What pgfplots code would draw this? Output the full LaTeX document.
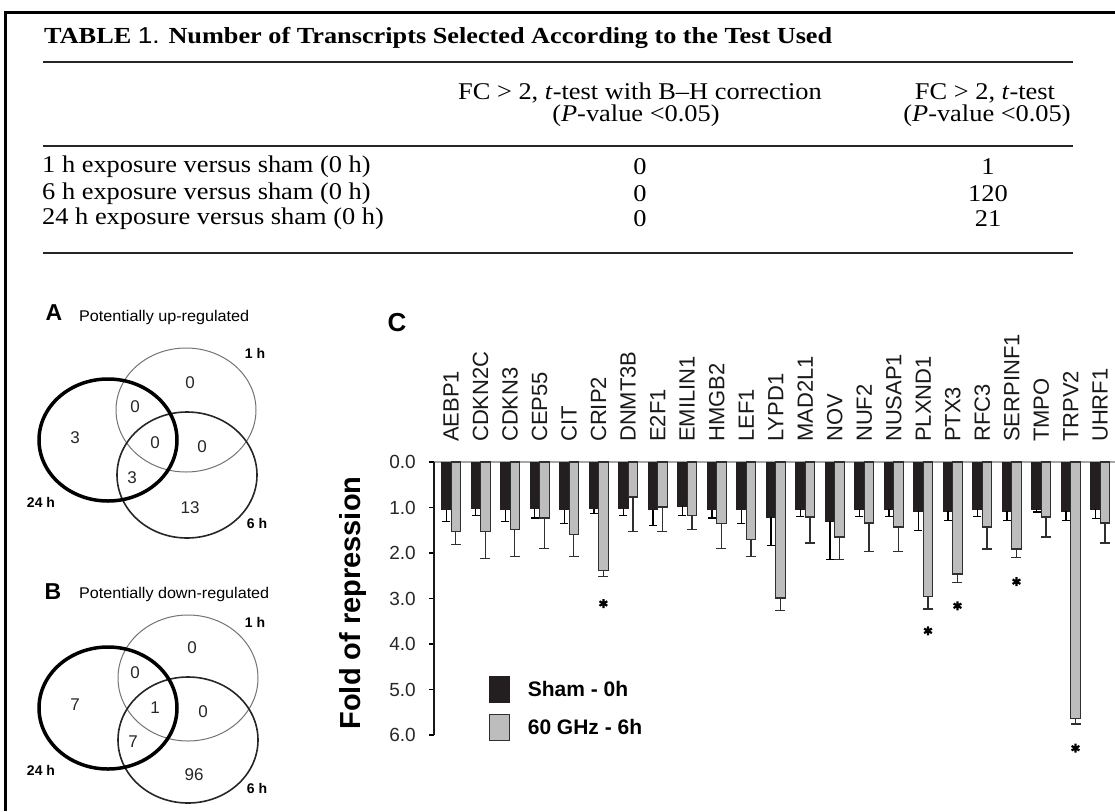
\documentclass[border=0pt]{standalone}
\usepackage{pgfplots}
\pgfplotsset{compat=1.18}
\usepackage{pgfplotstable}
\usepackage{graphicx}
\usepackage{fontspec}
\setmainfont{Liberation Serif}
\setsansfont{Liberation Sans}
\newcommand\fs[2]{\fontsize{#1pt}{#2pt}\selectfont}
\newcommand\tx[1]{\scalebox{1.1}[1]{#1}}
\definecolor{barblack}{HTML}{231F20}
\definecolor{bargray}{HTML}{BDBDBD}
\definecolor{edge}{HTML}{303030}

\pgfplotstableread{
x  b     be    g     ge
0  1.05  0.26  1.52  0.30
1  1.03  0.15  1.52  0.60
2  1.05  0.26  1.49  0.59
3  1.03  0.20  1.23  0.67
4  1.05  0.31  1.60  0.48
5  1.03  0.11  2.39  0.13
6  1.03  0.15  0.77  0.75
7  1.05  0.35  0.99  0.53
8  0.97  0.21  1.18  0.31
9  1.05  0.18  1.36  0.54
10 1.05  0.31  1.71  0.37
11 1.21  0.62  2.99  0.28
12 1.04  0.15  1.21  0.57
13 1.30  0.85  1.65  0.50
14 1.04  0.15  1.34  0.62
15 1.04  0.15  1.43  0.53
16 1.08  0.43  2.96  0.27
17 1.08  0.21  2.46  0.18
18 1.04  0.15  1.43  0.48
19 1.08  0.21  1.91  0.19
20 1.04  0.06  1.21  0.44
21 1.08  0.21  5.63  0.13
22 1.04  0.20  1.34  0.44
}\genedata

\begin{document}
\begin{tikzpicture}
\path[use as bounding box] (0pt,0pt) rectangle (1115pt,-811pt);
% frame
\draw[line width=3pt] (5pt,-811pt) -- (5pt,-12pt) -- (1115pt,-12pt);

% ---------- table ----------
\node[anchor=west, inner sep=0pt] at (44pt,-38pt)
  {\resizebox{788pt}{\height}{\fs{23}{26}\textbf{TABLE} {\sffamily 1.} \textbf{Number of Transcripts Selected According to the Test Used}}};
\draw[line width=2pt, black!85] (43pt,-62pt) -- (1073pt,-62pt);
\draw[line width=2pt, black!85] (43pt,-146pt) -- (1073pt,-146pt);
\draw[line width=2pt, black!85] (43pt,-253pt) -- (1073pt,-253pt);
\begin{scope}[every node/.style={inner sep=0pt, font=\fs{24}{26}}]
\node at (640pt,-93pt) {\tx{FC > 2, \textit{t}-test with B--H correction}};
\node at (636pt,-116pt) {\tx{(\textit{P}-value <0.05)}};
\node at (985pt,-93pt) {\tx{FC > 2, \textit{t}-test}};
\node at (987pt,-116pt) {\tx{(\textit{P}-value <0.05)}};
\node[anchor=west] at (42pt,-167pt) {\tx{1 h exposure versus sham (0 h)}};
\node[anchor=west] at (42pt,-194pt) {\tx{6 h exposure versus sham (0 h)}};
\node[anchor=west] at (42pt,-219pt) {\tx{24 h exposure versus sham (0 h)}};
\node at (640pt,-167pt) {\tx{0}};
\node at (640pt,-194pt) {\tx{0}};
\node at (640pt,-219pt) {\tx{0}};
\node at (988pt,-167pt) {\tx{1}};
\node at (988pt,-194pt) {\tx{120}};
\node at (988pt,-219pt) {\tx{21}};
\end{scope}

% ---------- Venn A ----------
\node[inner sep=0pt, font=\sffamily\bfseries\fs{23}{23}] at (54pt,-313pt) {A};
\node[anchor=west, inner sep=0pt] at (79pt,-317pt) {\resizebox{170pt}{\height}{\sffamily\fs{15.5}{16}Potentially up-regulated}};
\draw[black!55, line width=1pt] (186pt,-410pt) ellipse [x radius=70pt, y radius=62pt];
\draw[black!85, line width=1.6pt] (187pt,-475pt) ellipse [x radius=70pt, y radius=63pt];
\draw[black, line width=3.5pt] (108pt,-440pt) ellipse [x radius=69pt, y radius=61pt];
\begin{scope}[every node/.style={inner sep=0pt, font=\sffamily\fs{17}{17}, text=black!85}]
\node at (190pt,-383pt) {0};
\node at (135pt,-407pt) {0};
\node at (75pt,-438pt) {3};
\node at (155pt,-443pt) {0};
\node at (202pt,-447pt) {0};
\node at (132pt,-478pt) {3};
\node at (190pt,-508pt) {13};
\end{scope}
\begin{scope}[every node/.style={inner sep=0pt, font=\sffamily\bfseries\fs{14}{14}}]
\node at (255pt,-353pt) {1 h};
\node at (41pt,-502pt) {24 h};
\node at (257pt,-523pt) {6 h};
\end{scope}

% ---------- Venn B ----------
\node[inner sep=0pt, font=\sffamily\bfseries\fs{23}{23}] at (53pt,-592pt) {B};
\node[anchor=west, inner sep=0pt] at (79pt,-594pt) {\resizebox{190pt}{\height}{\sffamily\fs{15.5}{16}Potentially down-regulated}};
\draw[black!55, line width=1pt] (188pt,-678pt) ellipse [x radius=70pt, y radius=63pt];
\draw[black!85, line width=1.6pt] (188pt,-740pt) ellipse [x radius=70pt, y radius=63pt];
\draw[black, line width=3.5pt] (108pt,-708pt) ellipse [x radius=69pt, y radius=61pt];
\begin{scope}[every node/.style={inner sep=0pt, font=\sffamily\fs{17}{17}, text=black!85}]
\node at (192pt,-648pt) {0};
\node at (135pt,-673pt) {0};
\node at (75pt,-705pt) {7};
\node at (155pt,-708pt) {1};
\node at (203pt,-712pt) {0};
\node at (133pt,-742pt) {7};
\node at (194pt,-775pt) {96};
\end{scope}
\begin{scope}[every node/.style={inner sep=0pt, font=\sffamily\bfseries\fs{14}{14}}]
\node at (255pt,-622pt) {1 h};
\node at (41pt,-770pt) {24 h};
\node at (257pt,-788pt) {6 h};
\end{scope}

% ---------- Panel C ----------
\node[inner sep=0pt, font=\sffamily\bfseries\fs{26}{26}] at (397pt,-323pt) {C};
\node[inner sep=0pt, rotate=90, font=\sffamily\bfseries\fs{29}{29}] at (353pt,-603pt) {Fold of repression};

\begin{axis}[
  at={(434pt,-462pt)}, anchor=north west,
  scale only axis, width=681pt, height=273pt,
  xmin=-0.58, xmax=22.5, ymin=0, ymax=6,
  y dir=reverse,
  axis x line*=top, axis y line*=left,
  axis line style={-},
  x axis line style={draw=black!35, line width=1.2pt},
  y axis line style={draw=black!90, line width=1.2pt},
  xticklabel pos=right,
  xtick={0,...,22},
  xticklabels={AEBP1,CDKN2C,CDKN3,CEP55,CIT,CRIP2,DNMT3B,E2F1,EMILIN1,HMGB2,LEF1,LYPD1,MAD2L1,NOV,NUF2,NUSAP1,PLXND1,PTX3,RFC3,SERPINF1,TMPO,TRPV2,UHRF1},
  xticklabel style={rotate=90, anchor=west, inner sep=0pt, font=\sffamily\fs{22}{22}, text=black!90},
  xticklabel shift=15pt,
  xtick style={draw=none},
  ytick={0,...,6},
  yticklabel style={inner sep=0pt, xshift=-13pt, font=\sffamily\fs{19}{19}, text=black!85,
    /pgf/number format/fixed, /pgf/number format/fixed zerofill,
    /pgf/number format/precision=1, /pgf/number format/assume math mode=true},
  tick align=outside, major tick length=5pt,
  ytick style={black, line width=1.2pt},
  clip=false,
  legend style={at={(axis description cs:0.0808,0.216)}, anchor=north west,
    draw=none, fill=none, inner sep=0pt, row sep=11pt,
    font=\sffamily\bfseries\fs{21}{21}},
  legend cell align=left,
  legend image code/.code={\draw[#1] (0pt,-13pt) rectangle (20pt,13pt); \path[draw=none, fill=none] (0pt,-1pt) rectangle (36pt,1pt);},
]
\addplot[ybar, bar width=9.5pt, bar shift=0pt, fill=barblack, draw=barblack, line width=1pt,
  error bars/.cd, y dir=plus, y explicit,
  error bar style={line width=1.2pt, black},
  error mark options={rotate=90, mark size=4pt, line width=1.2pt, black}]
  table[x expr=\thisrow{x}-0.161, y=b, y error=be] {\genedata};
\addlegendentry{Sham - 0h}
\addplot[ybar, bar width=9.5pt, bar shift=0pt, fill=bargray, draw=edge, line width=1.2pt,
  error bars/.cd, y dir=plus, y explicit,
  error bar style={line width=1.2pt, edge},
  error mark options={rotate=90, mark size=5pt, line width=1.2pt, edge}]
  table[x expr=\thisrow{x}+0.161, y=g, y error=ge] {\genedata};
\addlegendentry{60 GHz - 6h}
\addplot[only marks, mark=asterisk, mark size=4.5pt, mark options={line width=2.2pt, black}, forget plot]
  coordinates {(5.161,3.11) (16.161,3.71) (17.161,3.16) (19.161,2.63) (21.161,6.29)};
\end{axis}
\end{tikzpicture}
\end{document}
